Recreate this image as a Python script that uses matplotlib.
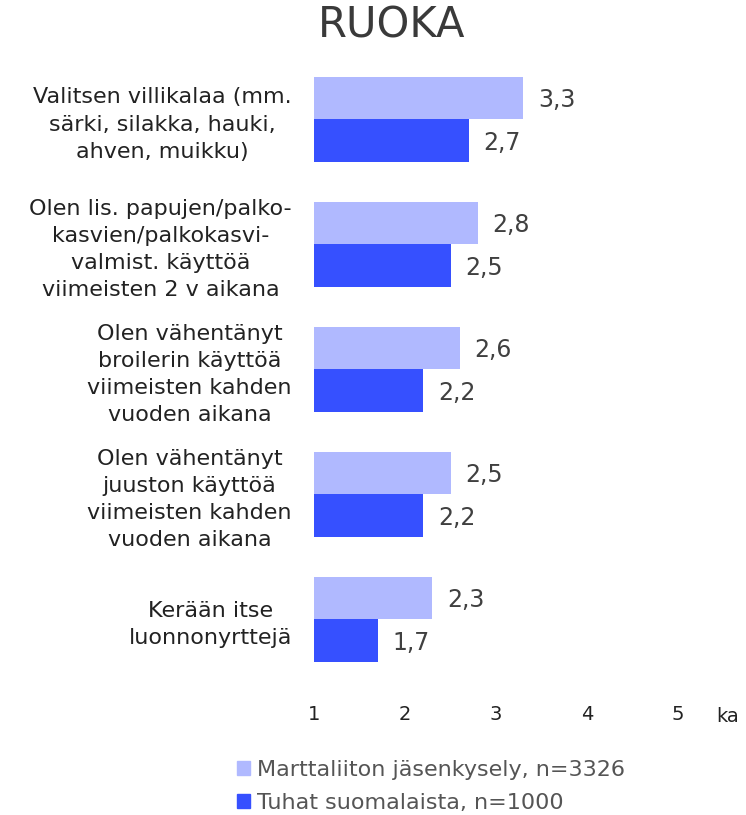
import numpy as np
import matplotlib.pyplot as plt
from matplotlib.patches import Patch

# Data
categories = [
    'Valitsen villikalaa (mm.\nsärki, silakka, hauki,\nahven, muikku)',
    'Olen lis. papujen/palko-\nkasvien/palkokasvi-\nvalmist. käyttöä\nviimeisten 2 v aikana',
    'Olen vähentänyt\nbroilerin käyttöä\nviimeisten kahden\nvuoden aikana',
    'Olen vähentänyt\njuuston käyttöä\nviimeisten kahden\nvuoden aikana',
    'Kerään itse\nluonnonyrttejä',
]
marttaliitto = [3.3, 2.8, 2.6, 2.5, 2.3]
tuhat = [2.7, 2.5, 2.2, 2.2, 1.7]
series_names = ['Marttaliiton jäsenkysely, n=3326', 'Tuhat suomalaista, n=1000']
xticks = [1, 2, 3, 4, 5]

LIGHT = '#b0b9ff'
DARK = '#3650ff'
TXT = '#222222'

plt.rcParams['font.family'] = ['DejaVu Sans']

W, H = 746, 815
fig = plt.figure(figsize=(W / 100, H / 100), dpi=100)
ax = fig.add_axes([314 / W, (H - 694) / H, (W - 314) / W, 650 / H])

y = np.arange(len(categories))
h = 0.34
ax.barh(y - h / 2, np.array(marttaliitto) - 1, left=1, height=h, color=LIGHT)
ax.barh(y + h / 2, np.array(tuhat) - 1, left=1, height=h, color=DARK)

for yy, v in zip(y - h / 2, marttaliitto):
    ax.text(v + 0.16, yy + 0.02, f'{v:.1f}'.replace('.', ','), va='center', ha='left',
            fontsize=17, color='#404040')
for yy, v in zip(y + h / 2, tuhat):
    ax.text(v + 0.16, yy + 0.02, f'{v:.1f}'.replace('.', ','), va='center', ha='left',
            fontsize=17, color='#404040')

ax.set_xlim(1, 1 + (W - 314) / 91)
ax.set_ylim(len(categories) - 0.4, -0.6)
ax.set_xticks(xticks)
ax.set_xticklabels([str(t) for t in xticks], fontsize=14, color=TXT)
ax.set_yticks(y)
ax.set_yticklabels(categories, fontsize=16, color=TXT, multialignment='center',
                   linespacing=1.45)
ax.tick_params(axis='both', length=0)
ax.tick_params(axis='y', pad=16)
ax.tick_params(axis='x', pad=8)
for s in ax.spines.values():
    s.set_visible(False)

ax.text((716 - 314) / 91 + 1, -0.02, 'ka', transform=ax.get_xaxis_transform(),
        ha='left', va='top', fontsize=14, color=TXT)

fig.text(392 / W, 1 - 26 / H, 'RUOKA', ha='center', va='center', fontsize=30, color='#3a3a3a')

handles = [Patch(color=LIGHT), Patch(color=DARK)]
fig.legend(handles, series_names, loc='upper left', bbox_to_anchor=(226 / W, 1 - 749 / H),
           frameon=False, fontsize=16, handlelength=0.6, handleheight=0.6,
           handletextpad=0.3, labelspacing=0.58, labelcolor='#555555', borderpad=0)

fig.savefig('out.png', dpi=100)
